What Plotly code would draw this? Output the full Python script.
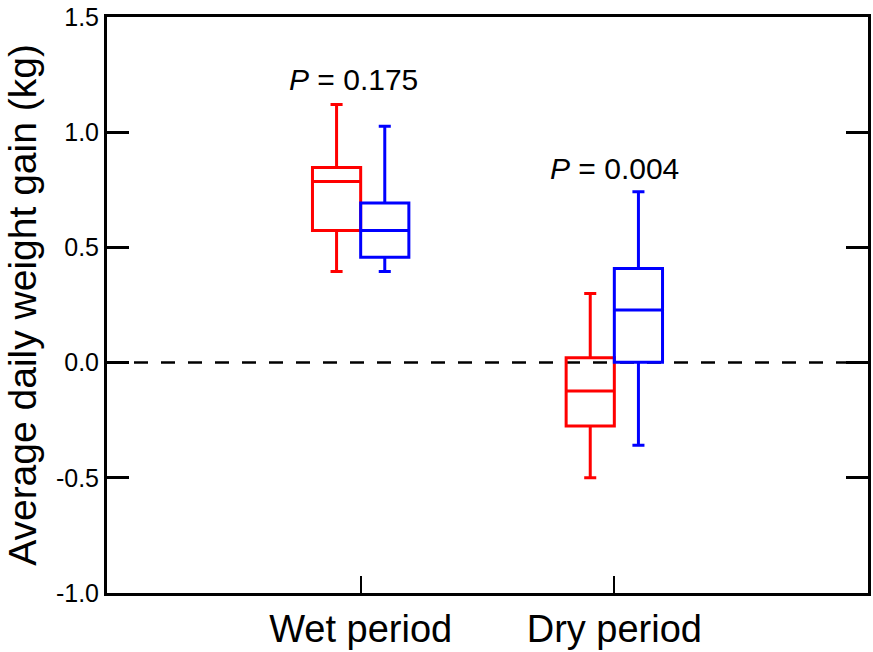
import plotly.graph_objects as go

categories = ["Wet period", "Dry period"]

# Group A (red)
red_upper = [1.12, 0.30]
red_q3 = [0.847, 0.021]
red_median = [0.786, -0.123]
red_q1 = [0.573, -0.275]
red_lower = [0.395, -0.50]

# Group B (blue)
blue_upper = [1.026, 0.742]
blue_q3 = [0.693, 0.408]
blue_median = [0.573, 0.228]
blue_q1 = [0.457, 0.002]
blue_lower = [0.395, -0.359]

p_labels = ["<i>P</i> = 0.175", "<i>P</i> = 0.004"]
p_y = [1.23, 0.841]
p_x = [-0.03, 0.0]

y_tickvals = [-1.0, -0.5, 0.0, 0.5, 1.0, 1.5]
y_ticktext = ["-1.0", "-0.5", "0.0", "0.5", "1.0", "1.5"]

FONT = "Liberation Sans, Arial, sans-serif"

fig = go.Figure()
fig.add_trace(go.Box(
    x=categories, q1=red_q1, median=red_median, q3=red_q3,
    lowerfence=red_lower, upperfence=red_upper,
    line=dict(color="#ff0000", width=3), fillcolor="rgba(0,0,0,0)",
    whiskerwidth=0.25, name="red", showlegend=False,
))
fig.add_trace(go.Box(
    x=categories, q1=blue_q1, median=blue_median, q3=blue_q3,
    lowerfence=blue_lower, upperfence=blue_upper,
    line=dict(color="#0000ff", width=3), fillcolor="rgba(0,0,0,0)",
    whiskerwidth=0.25, name="blue", showlegend=False,
))

fig.add_shape(type="line", xref="paper", yref="y", x0=0, x1=1, y0=0, y1=0,
              line=dict(color="black", width=2.5, dash="14px,13px"), layer="below")

for i, lab in enumerate(p_labels):
    fig.add_annotation(x=p_x[i] + i, y=p_y[i], text=lab, showarrow=False,
                       xanchor="center", yanchor="middle",
                       font=dict(family=FONT, size=30, color="black"))

fig.update_layout(
    width=873, height=652,
    margin=dict(l=107, r=2, t=17, b=59),
    paper_bgcolor="white", plot_bgcolor="white",
    boxmode="group", boxgap=0.62, boxgroupgap=0,
    font=dict(family=FONT, color="black"),
)
fig.update_xaxes(
    type="category", range=[-1, 2],
    showline=True, linecolor="black", linewidth=3, mirror=True,
    ticks="inside", ticklen=17, tickwidth=2, tickcolor="black",
    showgrid=False, zeroline=False,
    tickfont=dict(family=FONT, size=38, color="black"),
)
fig.update_yaxes(
    range=[-1.0, 1.5], tickvals=y_tickvals, ticktext=y_ticktext,
    showline=True, linecolor="black", linewidth=3, mirror="ticks",
    ticks="inside", ticklen=22, tickwidth=3, tickcolor="black",
    showgrid=False, zeroline=False,
    tickfont=dict(family=FONT, size=25, color="black"),
    title=dict(text="Average daily weight gain (kg)",
               font=dict(family=FONT, size=39, color="black"), standoff=8),
)

fig.write_html("out.html")
